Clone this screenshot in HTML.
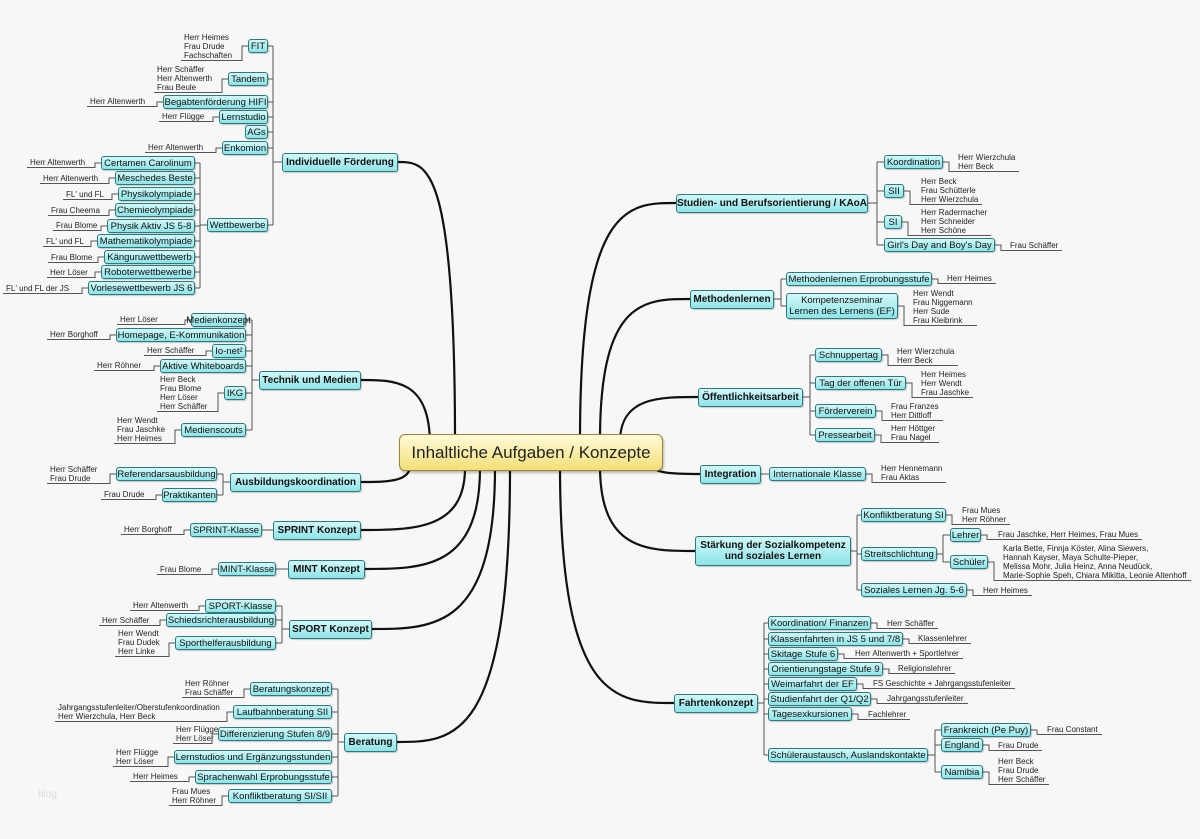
<!DOCTYPE html>
<html><head><meta charset="utf-8">
<style>
html,body{margin:0;padding:0}
body{width:1200px;height:839px;background:#f7f7f7;position:relative;overflow:hidden;font-family:"Liberation Sans",sans-serif}
.b{position:absolute;box-sizing:border-box;border:1px solid #2b7b7e;border-radius:3px;background:linear-gradient(#d2f8f8,#8ee4e8);color:#111;font-size:9.5px;line-height:11px;text-align:center;white-space:nowrap;display:flex;align-items:center;justify-content:center;box-shadow:1px 1px 1px rgba(0,0,0,.2)}
.m{font-weight:bold;font-size:10px;line-height:11px}
.lf{position:absolute;font-size:8px;line-height:9px;color:#222;white-space:nowrap;border-bottom:1px solid #555;box-sizing:content-box}
#c{position:absolute;left:399px;top:434px;width:264px;height:37px;box-sizing:border-box;border:1px solid #9a8530;border-radius:6px;background:linear-gradient(#fffbd8,#f3df78);font-size:17px;display:flex;align-items:center;justify-content:center;color:#222;box-shadow:1px 2px 2px rgba(0,0,0,.25)}
svg{position:absolute;left:0;top:0}
#wm{position:absolute;left:38px;top:789px;color:#ddd;font-size:10px}
</style></head><body>
<svg id="s" width="1200" height="839"></svg>
<div id="wm">blog</div>
<div id="root"></div>
<div id="c">Inhaltliche Aufgaben / Konzepte</div>
<script>
const M=[
{t:"Individuelle Förderung",x1:282,x2:398,c:162,s:'L',tx:273,sx:455,sy:440,ch:[
 {t:"FIT",x1:248,x2:268,c:46,lv:["Herr Heimes","Frau Drude","Fachschaften"],lx:184,ly:38},
 {t:"Tandem",x1:228,x2:268,c:79,lv:["Herr Schäffer","Herr Altenwerth","Frau Beule"],lx:157,ly:70},
 {t:"Begabtenförderung HIFI",x1:163,x2:268,c:102,lv:["Herr Altenwerth"],lx:90,ly:102},
 {t:"Lernstudio",x1:219,x2:268,c:117,lv:["Herr Flügge"],lx:162,ly:117},
 {t:"AGs",x1:245,x2:268,c:132},
 {t:"Enkomion",x1:222,x2:268,c:148,lv:["Herr Altenwerth"],lx:148,ly:148},
 {t:"Wettbewerbe",x1:207,x2:268,c:225,tx:200,ch:[
  {t:"Certamen Carolinum",x1:101,x2:195,c:163,lv:["Herr Altenwerth"],lx:30,ly:163},
  {t:"Meschedes Beste",x1:115,x2:195,c:178,lv:["Herr Altenwerth"],lx:43,ly:179},
  {t:"Physikolympiade",x1:118,x2:195,c:194,lv:["FL' und FL"],lx:66,ly:195},
  {t:"Chemieolympiade",x1:115,x2:195,c:210,lv:["Frau Cheema"],lx:51,ly:211},
  {t:"Physik Aktiv JS 5-8",x1:107,x2:195,c:226,lv:["Frau Blome"],lx:56,ly:226},
  {t:"Mathematikolympiade",x1:97,x2:195,c:241,lv:["FL' und FL"],lx:46,ly:242},
  {t:"Känguruwettbewerb",x1:104,x2:195,c:257,lv:["Frau Blome"],lx:51,ly:258},
  {t:"Roboterwettbewerbe",x1:101,x2:195,c:272,lv:["Herr Löser"],lx:50,ly:273},
  {t:"Vorlesewettbewerb JS 6",x1:88,x2:195,c:288,lv:["FL' und FL der JS"],lx:6,ly:289}]}]},
{t:"Technik und Medien",x1:259,x2:361,c:380,s:'L',tx:252,sx:430,sy:445,ch:[
 {t:"Medienkonzept",x1:191,x2:246,c:320,lv:["Herr Löser"],lx:120,ly:320},
 {t:"Homepage, E-Kommunikation",x1:116,x2:246,c:335,lv:["Herr Borghoff"],lx:50,ly:335},
 {t:"Io-net²",x1:212,x2:246,c:351,lv:["Herr Schäffer"],lx:147,ly:351},
 {t:"Aktive Whiteboards",x1:160,x2:246,c:366,lv:["Herr Röhner"],lx:97,ly:366},
 {t:"IKG",x1:224,x2:246,c:393,lv:["Herr Beck","Frau Blome","Herr Löser","Herr Schäffer"],lx:160,ly:380},
 {t:"Medienscouts",x1:181,x2:246,c:430,lv:["Herr Wendt","Frau Jaschke","Herr Heimes"],lx:117,ly:421}]},
{t:"Ausbildungskoordination",x1:230,x2:361,c:482,s:'L',tx:223,sx:410,sy:466,ch:[
 {t:"Referendarsausbildung",x1:116,x2:217,c:474,lv:["Herr Schäffer","Frau Drude"],lx:50,ly:470},
 {t:"Praktikanten",x1:162,x2:217,c:495,lv:["Frau Drude"],lx:104,ly:495}]},
{t:"SPRINT Konzept",x1:273,x2:361,c:530,s:'L',tx:268,sx:465,sy:468,ch:[
 {t:"SPRINT-Klasse",x1:190,x2:262,c:530,lv:["Herr Borghoff"],lx:124,ly:530}]},
{t:"MINT Konzept",x1:288,x2:365,c:569,s:'L',tx:282,sx:480,sy:468,ch:[
 {t:"MINT-Klasse",x1:218,x2:276,c:569,lv:["Frau Blome"],lx:160,ly:570}]},
{t:"SPORT Konzept",x1:289,x2:372,c:629,s:'L',tx:282,sx:495,sy:468,ch:[
 {t:"SPORT-Klasse",x1:205,x2:276,c:606,lv:["Herr Altenwerth"],lx:133,ly:606},
 {t:"Schiedsrichterausbildung",x1:166,x2:276,c:620,lv:["Herr Schäffer"],lx:102,ly:621},
 {t:"Sporthelferausbildung",x1:175,x2:276,c:643,lv:["Herr Wendt","Frau Dudek","Herr Linke"],lx:118,ly:634}]},
{t:"Beratung",x1:344,x2:397,c:742,s:'L',tx:338,sx:510,sy:468,ch:[
 {t:"Beratungskonzept",x1:250,x2:332,c:689,lv:["Herr Röhner","Frau Schäffer"],lx:185,ly:684},
 {t:"Laufbahnberatung SII",x1:233,x2:332,c:712,lv:["Jahrgangsstufenleiter/Oberstufenkoordination","Herr Wierzchula, Herr Beck"],lx:58,ly:708},
 {t:"Differenzierung Stufen 8/9",x1:218,x2:332,c:734,lv:["Herr Flügge","Herr Löser"],lx:176,ly:730},
 {t:"Lernstudios und Ergänzungsstunden",x1:174,x2:332,c:757,lv:["Herr Flügge","Herr Löser"],lx:116,ly:753},
 {t:"Sprachenwahl Erprobungsstufe",x1:195,x2:332,c:777,lv:["Herr Heimes"],lx:133,ly:777},
 {t:"Konfliktberatung SI/SII",x1:228,x2:332,c:796,lv:["Frau Mues","Herr Röhner"],lx:172,ly:792}]},
{t:"Studien- und Berufsorientierung / KAoA",x1:676,x2:868,c:203,s:'R',tx:877,sx:580,sy:440,ch:[
 {t:"Koordination",x1:884,x2:943,c:162,lv:["Herr Wierzchula","Herr Beck"],lx:958,ly:158},
 {t:"SII",x1:884,x2:904,c:191,lv:["Herr Beck","Frau Schütterle","Herr Wierzchula"],lx:921,ly:182},
 {t:"SI",x1:884,x2:902,c:222,lv:["Herr Radermacher","Herr Schneider","Herr Schöne"],lx:921,ly:213},
 {t:"Girl's Day and Boy's Day",x1:884,x2:995,c:245,lv:["Frau Schäffer"],lx:1010,ly:246}]},
{t:"Methodenlernen",x1:690,x2:774,c:299,s:'R',tx:781,sx:600,sy:440,ch:[
 {t:"Methodenlernen Erprobungsstufe",x1:786,x2:932,c:279,lv:["Herr Heimes"],lx:947,ly:279},
 {t:"Kompetenzseminar<br>Lernen des Lernens (EF)",x1:786,x2:898,c:306,h:26,lv:["Herr Wendt","Frau Niggemann","Herr Sude","Frau Kleibrink"],lx:913,ly:294}]},
{t:"Öffentlichkeitsarbeit",x1:698,x2:803,c:397,s:'R',tx:810,sx:620,sy:442,ch:[
 {t:"Schnuppertag",x1:815,x2:882,c:355,lv:["Herr Wierzchula","Herr Beck"],lx:897,ly:352},
 {t:"Tag der offenen Tür",x1:815,x2:906,c:383,lv:["Herr Heimes","Herr Wendt","Frau Jaschke"],lx:921,ly:375},
 {t:"Förderverein",x1:815,x2:876,c:411,lv:["Frau Franzes","Herr Dittloff"],lx:891,ly:407},
 {t:"Pressearbeit",x1:815,x2:875,c:435,lv:["Herr Höttger","Frau Nagel"],lx:891,ly:429}]},
{t:"Integration",x1:700,x2:761,c:474,s:'R',tx:765,sx:650,sy:462,ch:[
 {t:"Internationale Klasse",x1:769,x2:866,c:474,lv:["Herr Hennemann","Frau Aktas"],lx:881,ly:469}]},
{t:"Stärkung der Sozialkompetenz<br>und soziales Lernen",x1:695,x2:851,c:551,h:30,s:'R',tx:857,sx:600,sy:466,ch:[
 {t:"Konfliktberatung SI",x1:861,x2:946,c:515,lv:["Frau Mues","Herr Röhner"],lx:962,ly:511},
 {t:"Streitschlichtung",x1:861,x2:937,c:554,tx:943,ch:[
  {t:"Lehrer",x1:950,x2:981,c:535,lv:["Frau Jaschke, Herr Heimes, Frau Mues"],lx:998,ly:535},
  {t:"Schüler",x1:950,x2:988,c:562,lv:["Karla Bette, Finnja Köster, Alina Siewers,","Hannah Kayser, Maya Schulte-Pieper,","Melissa Mohr, Julia Heinz, Anna Neudück,","Marie-Sophie Speh, Chiara Mikitta, Leonie Altenhoff"],lx:1003,ly:549}]},
 {t:"Soziales Lernen Jg. 5-6",x1:861,x2:967,c:590,lv:["Herr Heimes"],lx:983,ly:591}]},
{t:"Fahrtenkonzept",x1:674,x2:758,c:703,s:'R',tx:764,sx:560,sy:466,ch:[
 {t:"Koordination/ Finanzen",x1:768,x2:871,c:623,lv:["Herr Schäffer"],lx:887,ly:624},
 {t:"Klassenfahrten in JS 5 und 7/8",x1:768,x2:903,c:639,lv:["Klassenlehrer"],lx:918,ly:639},
 {t:"Skitage Stufe 6",x1:768,x2:838,c:654,lv:["Herr Altenwerth + Sportlehrer"],lx:855,ly:654},
 {t:"Orientierungstage Stufe 9",x1:768,x2:883,c:669,lv:["Religionslehrer"],lx:898,ly:669},
 {t:"Weimarfahrt der EF",x1:768,x2:857,c:684,lv:["FS Geschichte + Jahrgangsstufenleiter"],lx:873,ly:684},
 {t:"Studienfahrt der Q1/Q2",x1:768,x2:871,c:699,lv:["Jahrgangsstufenleiter"],lx:887,ly:699},
 {t:"Tagesexkursionen",x1:768,x2:852,c:714,lv:["Fachlehrer"],lx:868,ly:715},
 {t:"Schüleraustausch, Auslandskontakte",x1:768,x2:928,c:755,tx:935,ch:[
  {t:"Frankreich (Pe Puy)",x1:941,x2:1031,c:730,lv:["Frau Constant"],lx:1047,ly:730},
  {t:"England",x1:941,x2:983,c:745,lv:["Frau Drude"],lx:998,ly:746},
  {t:"Namibia",x1:941,x2:983,c:772,lv:["Herr Beck","Frau Drude","Herr Schäffer"],lx:998,ly:762}]}]}
];
const S=document.getElementById('s'),R=document.getElementById('root');
let P='',T='';
function box(n,cls){const h=n.h||(cls=='m'?19:14),d=document.createElement('div');d.className='b'+(cls?' '+cls:'');
 d.style.cssText=`left:${n.x1}px;top:${n.c-h/2}px;width:${n.x2-n.x1}px;height:${h}px`;d.innerHTML=n.t;R.appendChild(d);}
function leaf(n,side){if(!n.lv)return;const top=n.ly-5,bot=top+9*n.lv.length+1;const d=document.createElement('div');d.className='lf';d.innerHTML=n.lv.join('<br>');
 if(side=='L'){const e=n.x1-6;d.style.cssText=`left:${n.lx-3}px;top:${top}px;width:${e-(n.lx-3)-3}px;padding-left:3px`;P+=`M${n.x1} ${n.c}H${e}V${bot}`;}
 else{const e=n.x2+6;d.style.cssText=`left:${e}px;top:${top}px;padding-left:${n.lx-e}px;padding-right:4px`;P+=`M${n.x2} ${n.c}H${e}V${bot}`;}
 R.appendChild(d);}
function grp(p,side,cls){box(p,cls);if(!p.ch){leaf(p,side);return;}
 let ys=p.ch.map(c=>c.c).concat([p.c]);P+=`M${p.tx} ${Math.min(...ys)}V${Math.max(...ys)}`;
 P+= side=='L'?`M${p.x1} ${p.c}H${p.tx}`:`M${p.x2} ${p.c}H${p.tx}`;
 p.ch.forEach(c=>{P+= side=='L'?`M${c.x2} ${c.c}H${p.tx}`:`M${c.x1} ${c.c}H${p.tx}`;grp(c,side,'');});}
M.forEach(m=>{grp(m,m.s,'m');const ex=m.s=='L'?m.x2:m.x1,ey=m.c;
 T+=`M${m.sx} ${m.sy}C${m.sx} ${ey} ${(m.sx+ex)/2} ${ey} ${ex} ${ey}`;});
S.innerHTML=`<path d="${T}" fill="none" stroke="#111" stroke-width="2.2"/><path d="${P}" fill="none" stroke="#555" stroke-width="1"/>`;
</script>
</body></html>
